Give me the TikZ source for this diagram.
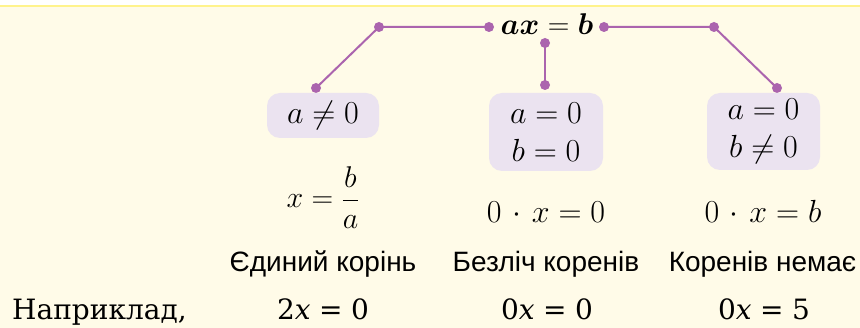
\RequirePackage{fix-cm}
\documentclass[tikz,border=0pt]{standalone}
\usepackage{amsmath,bm}
\usepackage{fontspec}
\newfontfamily\labelfont{Liberation Sans}
\newfontfamily\exfont{DejaVu Serif}
\definecolor{cream}{HTML}{FFFBE8}
\definecolor{yline}{HTML}{FFF38C}
\definecolor{pl}{HTML}{AB64AE}
\definecolor{boxfill}{HTML}{EBE3F0}
\tikzset{
  conn/.style={draw=pl, line width=2pt},
  dot/.style={fill=pl},
  condbox/.style={fill=boxfill, rounded corners=13pt, inner sep=0pt, align=center,
    font=\fontsize{32}{38}\selectfont},
  mathtxt/.style={inner sep=0pt, anchor=base, font=\fontsize{32}{36}\selectfont},
  lbl/.style={inner sep=0pt, anchor=base, font=\labelfont\fontsize{28}{32}\selectfont},
  ex/.style={inner sep=0pt, anchor=base, font=\exfont\fontsize{28}{32}\selectfont},
}
\newcommand{\eqsp}{\hspace{0.3em}}
\medmuskip=6mu
\begin{document}
\begin{tikzpicture}[x=1pt,y=-1pt]
\useasboundingbox (0,0) rectangle (860,328);
\fill[white] (0,0) rectangle (860,328);
\fill[cream] (0,6) rectangle (860,328);
\draw[yline, line width=1.6pt] (0,6) -- (860,6);

% top equation
\node[inner sep=0pt, anchor=base, font=\fontsize{30}{34}\selectfont] (eq) at (547,35) {$\bm{ax}\mathbf{\;=\;}\bm{b}$};

% coordinates of dots
\coordinate (l1) at (489,27);
\coordinate (l2) at (379,27);
\coordinate (l3) at (316,88);
\coordinate (r1) at (604,27);
\coordinate (r2) at (714,27);
\coordinate (r3) at (777,88);
\coordinate (m1) at (545,43);
\coordinate (m2) at (545,85);

\draw[conn] (l1) -- (l2) -- (l3);
\draw[conn] (r1) -- (r2) -- (r3);
\draw[conn] (m1) -- (m2);
\foreach \p in {l1,l2,l3,r1,r2,r3,m1,m2} \fill[dot] (\p) circle (5pt);

% condition boxes
\node[condbox, minimum width=112pt, minimum height=45pt] (bl) at (323,115.5) {$a \neq 0$};
\node[condbox, minimum width=114pt, minimum height=78pt] (bm) at (546,132) {$a = 0$\\$b = 0$};
\node[condbox, minimum width=113pt, minimum height=77pt] (br) at (763.5,131.5) {$a = 0$\\$b \neq 0$};

% solutions
\node[mathtxt, font=\fontsize{30}{36}\selectfont] (sl) at (323,208) {$x=\dfrac{b}{a}$};
\node[mathtxt] (sm) at (546,223) {$0\cdot x = 0$};
\node[mathtxt] (sr) at (763,223) {$0\cdot x = b$};

% labels
\node[lbl] (tl) at (323,272) {Єдиний корінь};
\node[lbl] (tm) at (546,272) {Безліч коренів};
\node[lbl] (tr) at (762.5,272) {Коренів немає};

% examples
\node[ex, anchor=base west] (ex0) at (12,320) {Наприклад,};
\node[ex] (el) at (323,320) {2\textit{x}\eqsp=\eqsp0};
\node[ex] (em) at (547,320) {0\textit{x}\eqsp=\eqsp0};
\node[ex] (er) at (764,320) {0\textit{x}\eqsp=\eqsp5};
\end{tikzpicture}
\end{document}
